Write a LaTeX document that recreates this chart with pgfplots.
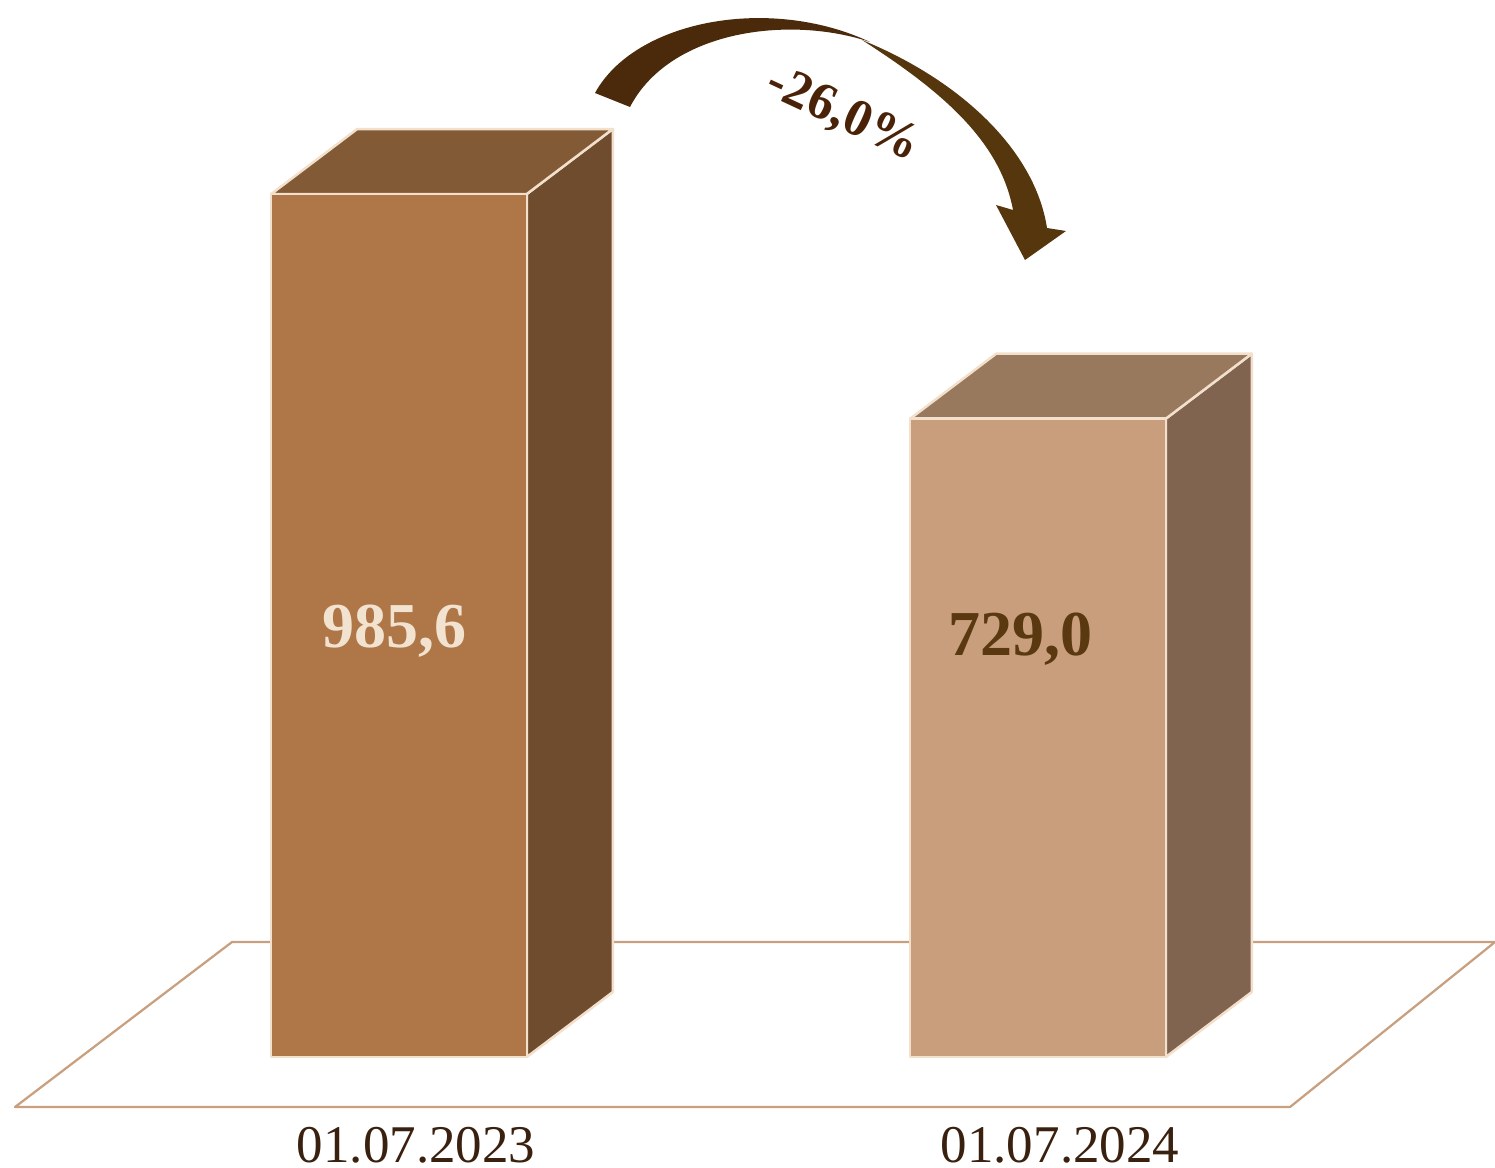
\documentclass[border=0pt]{standalone}
\usepackage{fontspec}
\setmainfont{Liberation Serif}
\usepackage{pgfplots}
\pgfplotsset{compat=1.18}
\definecolor{fronta}{HTML}{AF7748}
\definecolor{topa}{HTML}{825A36}
\definecolor{sidea}{HTML}{6F4C2E}
\definecolor{frontb}{HTML}{C99E7C}
\definecolor{topb}{HTML}{98795E}
\definecolor{sideb}{HTML}{806450}
\definecolor{edgec}{HTML}{F2E0CC}
\definecolor{floorc}{HTML}{C8A080}
\definecolor{datec}{HTML}{3A200E}
\definecolor{vala}{HTML}{F2E2D0}
\definecolor{valb}{HTML}{5A3810}
\definecolor{arrowa}{HTML}{4A2A0A}
\definecolor{arrowb}{HTML}{56360C}
\definecolor{pctc}{HTML}{4A2208}
\begin{document}
\begin{tikzpicture}
\path[use as bounding box] (0,0) rectangle (299pt,233.4pt);
\begin{axis}[
  scale only axis, width=299pt, height=233.4pt,
  xmin=-0.62441, xmax=1.71518, ymin=-125.63, ymax=1207.16,
  hide axis, clip=false,
]
% floor
\addplot[draw=floorc, line width=0.45pt, line join=round] coordinates {(-0.6009,-57.1) (1.3944,-57.1) (1.7152,131.34) (-0.2613,131.34)} -- cycle;
% bar 1: 985.6
\addplot[fill=sidea, draw=edgec, line width=0.5pt, line join=round] coordinates {(0.2,0) (0.3346,74.23) (0.3346,1059.83) (0.2,985.6)} -- cycle;
\addplot[fill=topa, draw=edgec, line width=0.5pt, line join=round] coordinates {(-0.2,985.6) (0.2,985.6) (0.3346,1059.83) (-0.0654,1059.83)} -- cycle;
\addplot[fill=fronta, draw=edgec, line width=0.5pt, line join=round] coordinates {(-0.2,0) (0.2,0) (0.2,985.6) (-0.2,985.6)} -- cycle;
% bar 2: 729.0
\addplot[fill=sideb, draw=edgec, line width=0.5pt, line join=round] coordinates {(1.2,0) (1.3346,74.23) (1.3346,803.23) (1.2,729.0)} -- cycle;
\addplot[fill=topb, draw=edgec, line width=0.5pt, line join=round] coordinates {(0.8,729.0) (1.2,729.0) (1.3346,803.23) (0.9346,803.23)} -- cycle;
\addplot[fill=frontb, draw=edgec, line width=0.5pt, line join=round] coordinates {(0.8,0) (1.2,0) (1.2,729.0) (0.8,729.0)} -- cycle;
% value labels
\node[anchor=base, font=\fontsize{12.8pt}{14pt}\selectfont\bfseries, text=vala, inner sep=0pt] at (axis cs:-0.0078,468.2) {985,6};
\node[anchor=base, font=\fontsize{12.8pt}{14pt}\selectfont\bfseries, text=valb, inner sep=0pt] at (axis cs:0.9718,459.1) {729,0};
% category labels
\node[anchor=base, font=\fontsize{10.6pt}{12pt}\selectfont, text=datec, inner sep=0pt] at (axis cs:0.0266,-119.9) {01.07.2023};
\node[anchor=base, font=\fontsize{10.6pt}{12pt}\selectfont, text=datec, inner sep=0pt] at (axis cs:1.0344,-119.9) {01.07.2024};
\end{axis}
% arrow annotation in pixel coordinates
\begin{scope}[x=0.2pt, y=-0.2pt, yshift=233.4pt]
\fill[arrowa] (595,93) .. controls (635,20) and (770,-5) .. (870,42)
  .. controls (790,15) and (670,30) .. (630,107) -- cycle;
\fill[arrowb] (862,40) .. controls (960,80) and (1035,150) .. (1047,228)
  -- (1066,231) -- (1025,260) -- (996,205) -- (1013,210)
  .. controls (1000,140) and (940,90) .. (862,40) -- cycle;
\node[rotate=-25, font=\fontsize{10.5pt}{12pt}\selectfont\bfseries, text=pctc, inner sep=0pt] at (843,115) {-26,0\%};
\end{scope}
\end{tikzpicture}
\end{document}
